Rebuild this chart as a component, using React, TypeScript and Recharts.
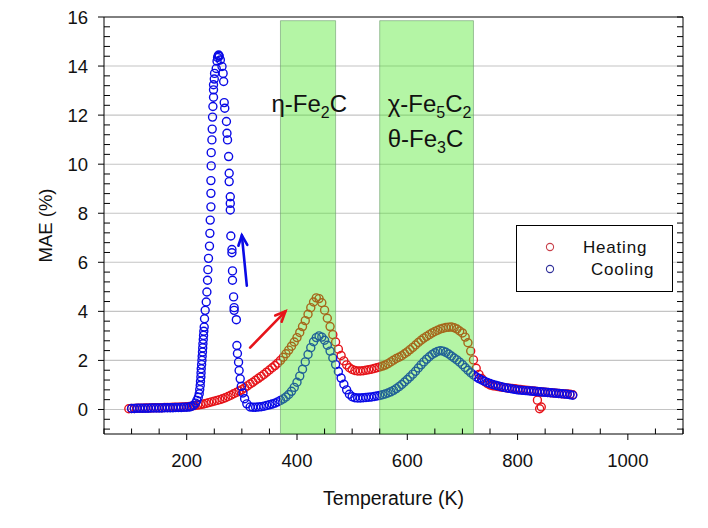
import {
  ScatterChart,
  Scatter,
  XAxis,
  YAxis,
  CartesianGrid,
  ReferenceArea,
  ReferenceLine,
  Legend,
} from "recharts";

// Heating run, [temperature K, MAE %]
const heating: [number, number][] = [
  [95, 0.03], [100, 0.04], [105, 0.04], [110, 0.05], [115, 0.05], [120, 0.05],
  [125, 0.06], [130, 0.06], [135, 0.06], [140, 0.07], [145, 0.07], [150, 0.07],
  [155, 0.07], [160, 0.08], [165, 0.08], [170, 0.08], [175, 0.09], [180, 0.09],
  [185, 0.09], [190, 0.1], [195, 0.1], [200, 0.11], [205, 0.12], [210, 0.14],
  [215, 0.16], [220, 0.18], [225, 0.2], [230, 0.22], [235, 0.25], [240, 0.28],
  [245, 0.31], [250, 0.34], [255, 0.37], [260, 0.4], [265, 0.44], [270, 0.48],
  [275, 0.53], [280, 0.58], [285, 0.64], [290, 0.69], [295, 0.75], [300, 0.81],
  [305, 0.88], [310, 0.96], [315, 1.04], [320, 1.11], [325, 1.19], [330, 1.27],
  [335, 1.35], [340, 1.43], [345, 1.52], [350, 1.61], [355, 1.7], [360, 1.79],
  [365, 1.89], [370, 2.0], [375, 2.13], [380, 2.27], [385, 2.42], [390, 2.58],
  [395, 2.75], [400, 2.93], [405, 3.14], [410, 3.38], [415, 3.62], [420, 3.88],
  [425, 4.15], [430, 4.38], [435, 4.55], [440, 4.52], [445, 4.35], [450, 4.05],
  [455, 3.72], [460, 3.38], [465, 3.05], [470, 2.75], [475, 2.46], [480, 2.2],
  [485, 1.98], [490, 1.82], [495, 1.7], [500, 1.63], [505, 1.59], [510, 1.57],
  [515, 1.57], [520, 1.58], [525, 1.6], [530, 1.62], [535, 1.64], [540, 1.67],
  [545, 1.7], [550, 1.73], [555, 1.77], [560, 1.81], [565, 1.87], [570, 1.94],
  [575, 2.01], [580, 2.08], [585, 2.13], [590, 2.19], [595, 2.27], [600, 2.35],
  [605, 2.44], [610, 2.53], [615, 2.63], [620, 2.73], [625, 2.82], [630, 2.91],
  [635, 2.98], [640, 3.05], [645, 3.12], [650, 3.18], [655, 3.23], [660, 3.28],
  [665, 3.31], [670, 3.34], [675, 3.35], [680, 3.36], [685, 3.33], [690, 3.28],
  [695, 3.2], [700, 3.12], [705, 2.95], [710, 2.72], [715, 2.38], [720, 2.02],
  [725, 1.68], [730, 1.43], [735, 1.26], [740, 1.14], [745, 1.06], [750, 1.0],
  [755, 0.97], [760, 0.95], [765, 0.93], [770, 0.91], [775, 0.9], [780, 0.88],
  [785, 0.87], [790, 0.86], [795, 0.85], [800, 0.83], [805, 0.82], [810, 0.8],
  [815, 0.79], [820, 0.78], [825, 0.76], [830, 0.75], [835, 0.73], [836, 0.38],
  [840, 0.72], [840, 0.03], [843, 0.1], [845, 0.71], [850, 0.7], [855, 0.69],
  [860, 0.68], [865, 0.67], [870, 0.66], [875, 0.65], [880, 0.64], [885, 0.63],
  [890, 0.63], [895, 0.62], [900, 0.6],
];

// Cooling run, from 900 K down
const cooling: [number, number][] = [
  [900, 0.58], [895, 0.6], [890, 0.62], [885, 0.63], [880, 0.64], [875, 0.65],
  [870, 0.66], [865, 0.67], [860, 0.68], [855, 0.69], [850, 0.7], [845, 0.71],
  [840, 0.72], [835, 0.73], [830, 0.74], [825, 0.75], [820, 0.76], [815, 0.77],
  [810, 0.78], [805, 0.79], [800, 0.8], [795, 0.82], [790, 0.84], [785, 0.86],
  [780, 0.88], [775, 0.9], [770, 0.93], [765, 0.96], [760, 0.99], [755, 1.02],
  [750, 1.06], [745, 1.1], [740, 1.15], [735, 1.2], [730, 1.26], [725, 1.33],
  [720, 1.41], [715, 1.5], [710, 1.6], [705, 1.71], [700, 1.83], [695, 1.93],
  [690, 2.02], [685, 2.1], [680, 2.18], [675, 2.26], [670, 2.33], [665, 2.38],
  [660, 2.4], [655, 2.37], [650, 2.31], [645, 2.24], [640, 2.15], [635, 2.05],
  [630, 1.94], [625, 1.82], [620, 1.69], [615, 1.56], [610, 1.44], [605, 1.33],
  [600, 1.22], [595, 1.12], [590, 1.02], [585, 0.93], [580, 0.85], [575, 0.78],
  [570, 0.72], [565, 0.67], [560, 0.63], [555, 0.6], [550, 0.57], [545, 0.55],
  [540, 0.53], [535, 0.51], [530, 0.5], [525, 0.49], [520, 0.48], [515, 0.47],
  [510, 0.47], [505, 0.48], [500, 0.52], [495, 0.62], [490, 0.8], [485, 1.03],
  [480, 1.28], [475, 1.55], [470, 1.83], [465, 2.1], [460, 2.38], [455, 2.62],
  [450, 2.82], [445, 2.95], [440, 3.0], [435, 2.93], [430, 2.76], [425, 2.52],
  [420, 2.24], [415, 1.94], [410, 1.64], [405, 1.36], [400, 1.11], [395, 0.9],
  [390, 0.74], [385, 0.61], [380, 0.51], [375, 0.43], [370, 0.37], [365, 0.31],
  [360, 0.26], [355, 0.22], [350, 0.19], [345, 0.16], [340, 0.13], [335, 0.11],
  [330, 0.1], [325, 0.09], [320, 0.09], [315, 0.1],
  // sharp peak, high-T branch
  [309, 0.23], [305, 0.44], [302, 0.67], [299, 0.94], [297, 1.25], [295, 1.59],
  [294, 1.93], [292, 2.28], [291, 2.61], [290, 3.66], [286, 4.04], [286, 4.15],
  [285, 4.59], [283, 5.27], [283, 5.65], [282, 6.39], [282, 6.52], [280, 7.07],
  [279, 8.13], [279, 8.4], [279, 8.67], [277, 9.29], [277, 9.63], [276, 10.31],
  [274, 10.99], [273, 11.26], [272, 11.74], [269, 12.28], [268, 12.51],
  [267, 13.37], [266, 13.7], [264, 13.98], [261, 14.25], [259, 14.4],
  [258, 14.45], [257, 14.42], [256, 14.35], [255, 14.2],
  // low-T branch
  [253.5, 13.9], [250.5, 13.7], [250, 13.47], [248.6, 13.24], [248.6, 13.03],
  [248.6, 12.73], [247.5, 12.35], [246.8, 11.92], [246.2, 11.43], [245.7, 10.99],
  [244.4, 10.47], [244.4, 9.93], [243.9, 9.33], [243.9, 8.81], [243.9, 8.26],
  [242.6, 7.72], [242, 7.18], [241.3, 6.66], [239.5, 6.16], [238.4, 5.7],
  [237.7, 5.27], [236.6, 4.79], [235.4, 4.38], [233.5, 4.04], [232.3, 3.7],
  [231.7, 3.36], [231, 3.19], [230.5, 3.02], [230, 2.85], [229.4, 2.68],
  [229, 2.51], [228.6, 2.34], [228, 2.17], [227.6, 2.0], [227, 1.83],
  [226.3, 1.66], [226, 1.49], [225.7, 1.32], [225, 1.15], [224.5, 0.98],
  [223.6, 0.81], [222.7, 0.64], [221, 0.5], [218.5, 0.37], [216, 0.26],
  [212.3, 0.16], [208, 0.12], [205, 0.1], [200, 0.09], [195, 0.09], [190, 0.08],
  [185, 0.08], [180, 0.08], [175, 0.07], [170, 0.07], [165, 0.07], [160, 0.07],
  [155, 0.06], [150, 0.06], [145, 0.06], [140, 0.06], [135, 0.06], [130, 0.05],
  [125, 0.05], [120, 0.05], [115, 0.05], [110, 0.05], [105, 0.04], [100, 0.04],
];

const seriesNames = ["Heating", "Cooling"];

const xMajorTicks = [200, 400, 600, 800, 1000];
const xAllTicks = [
  50, 100, 150, 200, 250, 300, 350, 400, 450, 500, 550, 600, 650, 700, 750,
  800, 850, 900, 950, 1000, 1050, 1100,
];
const yMajorTicks = [0, 2, 4, 6, 8, 10, 12, 14, 16];
const yAllTicks = [
  -0.8, -0.4, 0, 0.4, 0.8, 1.2, 1.6, 2, 2.4, 2.8, 3.2, 3.6, 4, 4.4, 4.8, 5.2,
  5.6, 6, 6.4, 6.8, 7.2, 7.6, 8, 8.4, 8.8, 9.2, 9.6, 10, 10.4, 10.8, 11.2, 11.6,
  12, 12.4, 12.8, 13.2, 13.6, 14, 14.4, 14.8, 15.2, 15.6, 16,
];
const gridValues = [0, 2, 4, 6, 8, 10, 12, 14];

// phase bands [from K, to K]
const etaBand = [370, 470];
const chiBand = [550, 720];

// direction arrows [[tail T, tail MAE], [head T, head MAE]]
const heatArrow = [[315, 2.52], [379, 4.0]];
const coolArrow = [[309, 5.05], [300, 7.1]];

const RED = "#e6141a";
const BLUE = "#0a0ae6";
const INK = "#111";
const FONT = "'Liberation Sans', Arial, sans-serif";

const heatingData = heating.map(([t, mae]) => ({ t, mae }));
const coolingData = cooling.map(([t, mae]) => ({ t, mae }));

const isMajor = (list: number[], v: number) => list.some((m) => Math.abs(m - v) < 1e-6);

// bottom axis: tickSize 6 + tickMargin 14 between axis line and label top
function BottomTick({ x, y, payload }: any) {
  const axisY = y - 20;
  if (isMajor(xMajorTicks, payload.value)) {
    return (
      <g>
        <line x1={x} y1={axisY} x2={x} y2={axisY + 6} stroke="#000" />
        <text x={x} y={y} dy="0.71em" textAnchor="middle" fontSize={18.5} fontFamily={FONT} fill={INK}>
          {payload.value}
        </text>
      </g>
    );
  }
  return <line x1={x} y1={axisY} x2={x} y2={axisY - 5.5} stroke="#000" />;
}

// left axis: tickSize 6 + tickMargin 10 between axis line and label end
function LeftTick({ x, y, payload }: any) {
  const axisX = x + 16;
  if (isMajor(yMajorTicks, payload.value)) {
    return (
      <g>
        <line x1={axisX - 6} y1={y} x2={axisX} y2={y} stroke="#000" />
        <text x={x} y={y} dy="0.355em" textAnchor="end" fontSize={18.5} fontFamily={FONT} fill={INK}>
          {payload.value}
        </text>
      </g>
    );
  }
  return <line x1={axisX} y1={y} x2={axisX + 6} y2={y} stroke="#000" />;
}

function TopTick({ x, y }: any) {
  return <line x1={x} y1={y} x2={x} y2={y + 3.5} stroke="#000" />;
}

function RightTick({ x, y }: any) {
  return <line x1={x - 6} y1={y} x2={x} y2={y} stroke="#000" />;
}

const ring = (color: string) => (p: any) => (
  <circle cx={p.cx} cy={p.cy} r={4} fill="none" stroke={color} strokeWidth={1.4} />
);

const arrow = (color: string) => (p: any) => {
  const { x1, y1, x2, y2 } = p;
  const a = Math.atan2(y2 - y1, x2 - x1);
  const len = 11;
  const spread = 0.42;
  const l = [x2 - len * Math.cos(a - spread), y2 - len * Math.sin(a - spread)];
  const r = [x2 - len * Math.cos(a + spread), y2 - len * Math.sin(a + spread)];
  return (
    <g stroke={color} strokeWidth={2.6} fill="none" strokeLinecap="round">
      <line x1={x1} y1={y1} x2={x2} y2={y2} />
      <polyline points={`${l[0]},${l[1]} ${x2},${y2} ${r[0]},${r[1]}`} />
    </g>
  );
};

const SUB = 6;

function EtaLabel({ viewBox }: any) {
  const x = viewBox.x - 9;
  const y = viewBox.y + 91;
  return (
    <text x={x} y={y} fontFamily={FONT} fontSize={24} fill={INK}>
      <tspan>η-Fe</tspan>
      <tspan fontSize={16} dy={SUB}>2</tspan>
      <tspan dy={-SUB}>C</tspan>
    </text>
  );
}

function ChiLabel({ viewBox }: any) {
  const x = viewBox.x + 8;
  const y = viewBox.y + 91;
  return (
    <g>
      <text x={x} y={y} fontFamily={FONT} fontSize={24} fill={INK}>
        <tspan>χ-Fe</tspan>
        <tspan fontSize={16} dy={SUB}>5</tspan>
        <tspan dy={-SUB}>C</tspan>
        <tspan fontSize={16} dy={SUB}>2</tspan>
      </text>
      <text x={x} y={y + 35} fontFamily={FONT} fontSize={24} fill={INK}>
        <tspan>θ-Fe</tspan>
        <tspan fontSize={16} dy={SUB}>3</tspan>
        <tspan dy={-SUB}>C</tspan>
      </text>
    </g>
  );
}

function LegendBox({ payload }: any) {
  const colors: Record<string, string> = { Heating: "#c8404a", Cooling: "#30309a" };
  const indent: Record<string, number> = { Heating: 66, Cooling: 74 };
  const entries = seriesNames.filter((n) => (payload || []).some((e: any) => e.value === n));
  return (
    <div
      style={{
        width: 155,
        height: 65,
        border: "1px solid #000",
        background: "#fff",
        position: "relative",
        fontFamily: FONT,
        fontSize: 17,
        letterSpacing: 0.8,
        color: INK,
      }}
    >
      {entries.map((name, i) => (
        <div key={name} style={{ position: "absolute", left: 0, top: 12 + i * 22, height: 20, width: 155 }}>
          <svg width={12} height={12} style={{ position: "absolute", left: 27, top: 3 }}>
            <circle cx={6} cy={6} r={3.6} fill="none" stroke={colors[name]} strokeWidth={1.1} />
          </svg>
          <span style={{ position: "absolute", left: indent[name], top: 0, lineHeight: "20px" }}>
            {name}
          </span>
        </div>
      ))}
    </div>
  );
}

export default function App() {
  return (
    <div style={{ position: "absolute", left: 0, top: 0, background: "#fff" }}>
      <ScatterChart width={708} height={528} margin={{ top: 0, right: 0, bottom: 0, left: 0 }}>
        <CartesianGrid
          vertical={false}
          horizontalValues={gridValues}
          stroke="#c4c4c4"
          strokeWidth={1.1}
        />
        <XAxis
          dataKey="t"
          type="number"
          domain={[50, 1100]}
          allowDataOverflow
          ticks={xAllTicks}
          interval={0}
          tickSize={6}
          tickMargin={14}
          tickLine={false}
          tick={<BottomTick />}
          height={94}
          stroke="#000"
          label={{
            value: "Temperature (K)",
            position: "insideBottom",
            offset: 23,
            fontSize: 19.5,
            fill: INK,
            fontFamily: FONT,
          }}
        />
        <XAxis
          xAxisId="xtop"
          orientation="top"
          type="number"
          domain={[50, 1100]}
          allowDataOverflow
          ticks={xAllTicks}
          interval={0}
          tickSize={0}
          tickMargin={0}
          tickLine={false}
          tick={<TopTick />}
          height={17}
          stroke="#000"
        />
        <YAxis
          dataKey="mae"
          type="number"
          domain={[-1, 16]}
          allowDataOverflow
          ticks={yAllTicks}
          interval={0}
          tickSize={6}
          tickMargin={10}
          tickLine={false}
          tick={<LeftTick />}
          width={104}
          stroke="#000"
          label={{
            value: "MAE (%)",
            angle: -90,
            position: "insideLeft",
            offset: 45,
            fontSize: 18.5,
            fill: INK,
            fontFamily: FONT,
            style: { textAnchor: "middle" },
          }}
        />
        <YAxis
          yAxisId="yright"
          orientation="right"
          type="number"
          domain={[-1, 16]}
          allowDataOverflow
          ticks={yAllTicks}
          interval={0}
          tickSize={0}
          tickMargin={0}
          tickLine={false}
          tick={<RightTick />}
          width={25}
          stroke="#000"
        />
        <Legend
          layout="vertical"
          align="center"
          verticalAlign="middle"
          wrapperStyle={{ left: 516, top: 225, width: 157, height: 67 }}
          content={<LegendBox />}
        />
        <Scatter
          name="Heating"
          data={heatingData}
          fill={RED}
          shape={ring(RED)}
          isAnimationActive={false}
        />
        <Scatter
          name="Cooling"
          data={coolingData}
          fill={BLUE}
          shape={ring(BLUE)}
          isAnimationActive={false}
        />
        <ReferenceArea
          x1={etaBand[0]}
          x2={etaBand[1]}
          y1={-1}
          y2={15.85}
          fill="#44e61e"
          fillOpacity={0.4}
          stroke="#6c9c6c"
          strokeOpacity={0.6}
          zIndex={1000}
          label={(p: any) => <EtaLabel {...p} />}
        />
        <ReferenceArea
          x1={chiBand[0]}
          x2={chiBand[1]}
          y1={-1}
          y2={15.85}
          fill="#44e61e"
          fillOpacity={0.4}
          stroke="#6c9c6c"
          strokeOpacity={0.6}
          zIndex={1000}
          label={(p: any) => <ChiLabel {...p} />}
        />
        <ReferenceLine
          segment={[
            { x: heatArrow[0][0], y: heatArrow[0][1] },
            { x: heatArrow[1][0], y: heatArrow[1][1] },
          ]}
          shape={arrow(RED)}
          zIndex={1100}
        />
        <ReferenceLine
          segment={[
            { x: coolArrow[0][0], y: coolArrow[0][1] },
            { x: coolArrow[1][0], y: coolArrow[1][1] },
          ]}
          shape={arrow(BLUE)}
          zIndex={1100}
        />
      </ScatterChart>
    </div>
  );
}
